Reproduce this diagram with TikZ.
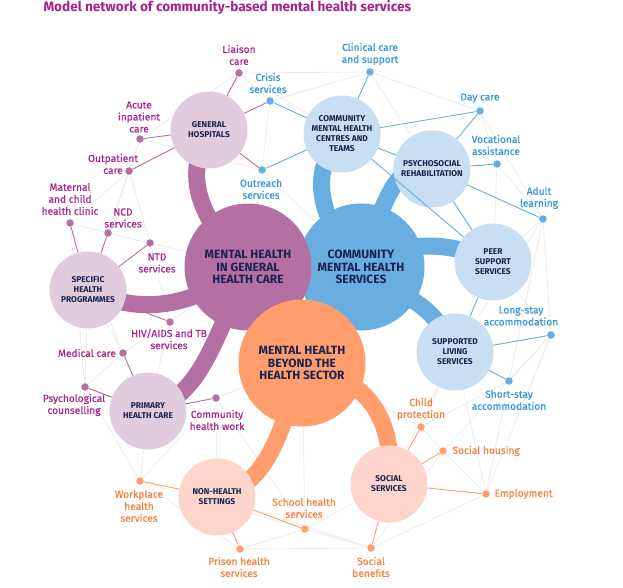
\documentclass[tikz,border=0pt]{standalone}
\usepackage{fontspec}
\setmainfont{Fira Sans}
\newfontfamily\labfont[FakeBold=0.6]{Fira Sans}
\definecolor{titlecol}{RGB}{166,36,142}
\definecolor{navy}{RGB}{27,36,80}
\definecolor{pband}{RGB}{180,111,163}
\definecolor{plight}{RGB}{224,204,220}
\definecolor{plabel}{RGB}{166,40,142}
\definecolor{bband}{RGB}{104,174,224}
\definecolor{blight}{RGB}{200,222,242}
\definecolor{blabel}{RGB}{52,152,219}
\definecolor{oband}{RGB}{255,158,108}
\definecolor{olight}{RGB}{253,213,203}
\definecolor{olabel}{RGB}{245,128,60}
\definecolor{meshgray}{RGB}{236,236,236}
\pgfdeclarelayer{bg}
\pgfdeclarelayer{mid}
\pgfsetlayers{bg,mid,main}
\begin{document}
\begin{tikzpicture}[x=1pt, y=-1pt,
  hub/.style={circle, minimum size=127pt, inner sep=0pt, align=center, text=navy, font=\bfseries\fontsize{12}{12.2}\selectfont},
  site/.style={circle, minimum size=77pt, inner sep=0pt, align=center, text=navy, font=\bfseries\fontsize{8.4}{10}\selectfont},
  pdot/.style={circle, fill=pband, minimum size=7.5pt, inner sep=0pt},
  bdot/.style={circle, fill=bband, minimum size=7.5pt, inner sep=0pt},
  odot/.style={circle, fill=oband, minimum size=7.5pt, inner sep=0pt},
  plab/.style={text=plabel, align=center, font=\labfont\fontsize{10.2}{12}\selectfont},
  blab/.style={text=blabel, align=center, font=\labfont\fontsize{10.2}{12}\selectfont},
  olab/.style={text=olabel, align=center, font=\labfont\fontsize{10.2}{12}\selectfont},
  pline/.style={draw=pband, line width=0.9pt},
  bline/.style={draw=bband, line width=0.9pt},
  oline/.style={draw=oband, line width=0.9pt},
  meshline/.style={draw=meshgray, line width=0.8pt},
  band/.style={line width=17pt}
]
\useasboundingbox (0,0) rectangle (623,588);

\node [anchor=base west, text=titlecol, font=\bfseries\fontsize{13.6}{15}\selectfont] (title) at (40,12) {Model network of community-based mental health services};

% big circles
\node [hub, fill=bband] (cmhs) at (361,267) {COMMUNITY\\MENTAL HEALTH\\SERVICES};
\node [hub, fill=pband] (mhg) at (248,267) {MENTAL HEALTH\\IN GENERAL\\HEALTH CARE};
\node [hub, fill=oband] (mhb) at (302,363) {MENTAL HEALTH\\BEYOND THE\\HEALTH SECTOR};

% small circles
\node [site, fill=plight] (gh) at (209,130) {GENERAL\\HOSPITALS};
\node [site, fill=plight] (shp) at (88,290) {SPECIFIC\\HEALTH\\PROGRAMMES};
\node [site, fill=plight] (phc) at (148,411) {PRIMARY\\HEALTH CARE};
\node [site, fill=blight] (cmhc) at (342,134) {COMMUNITY\\MENTAL HEALTH\\CENTRES AND\\TEAMS};
\node [site, fill=blight] (psr) at (432,169) {PSYCHOSOCIAL\\REHABILITATION};
\node [site, fill=blight] (peer) at (493,262) {PEER\\SUPPORT\\SERVICES};
\node [site, fill=blight] (sls) at (455,352) {SUPPORTED\\LIVING\\SERVICES};
\node [site, fill=olight] (nhs) at (217,497) {NON-HEALTH\\SETTINGS};
\node [site, fill=olight] (soc) at (389,484) {SOCIAL\\SERVICES};

% dots
\node [pdot] (liaison) at (239,73) {};
\node [pdot] (acute) at (140,139) {};
\node [pdot] (outpat) at (129,171) {};
\node [pdot] (maternal) at (70,223) {};
\node [pdot] (ncd) at (108,233) {};
\node [pdot] (ntd) at (150,243) {};
\node [pdot] (hiv) at (170,322) {};
\node [pdot] (medical) at (123,353) {};
\node [pdot] (psych) at (85,387) {};
\node [pdot] (chw) at (216,398) {};
\node [bdot] (crisis) at (270,101) {};
\node [bdot] (outreach) at (262,170) {};
\node [bdot] (clinical) at (370,72) {};
\node [bdot] (daycare) at (480,111) {};
\node [bdot] (vocat) at (497,164) {};
\node [bdot] (adult) at (543,219) {};
\node [bdot] (longstay) at (551,335) {};
\node [bdot] (shortstay) at (509,381) {};
\node [odot] (childprot) at (421,427) {};
\node [odot] (housing) at (443,451) {};
\node [odot] (employ) at (486,494) {};
\node [odot] (benefits) at (371,548) {};
\node [odot] (school) at (305,529) {};
\node [odot] (prison) at (240,549) {};
\node [odot] (workplace) at (140,481) {};

% labels
\node [plab] (liaisonlab) at (239,55) {Liaison\\care};
\node [plab] (acutelab) at (139,117) {Acute\\inpatient\\care};
\node [plab] (outpatlab) at (113,164) {Outpatient\\care};
\node [plab] (maternallab) at (70,199) {Maternal\\and child\\health clinic};
\node [plab] (ncdlab) at (123,218) {NCD\\services};
\node [plab] (ntdlab) at (157,263) {NTD\\services};
\node [plab] (hivlab) at (169,339) {HIV/AIDS and TB\\services};
\node [plab] (medicallab) at (87,353) {Medical care};
\node [plab] (psychlab) at (74,405) {Psychological\\counselling};
\node [plab] (chwlab) at (217,420) {Community\\health work};
\node [blab] (crisislab) at (268,83) {Crisis\\services};
\node [blab] (outreachlab) at (261,189) {Outreach\\services};
\node [blab] (clinicallab) at (370,54) {Clinical care\\and support};
\node [blab] (daycarelab) at (480,98) {Day care};
\node [blab] (vocatlab) at (496,145) {Vocational\\assistance};
\node [blab] (adultlab) at (539,198) {Adult\\learning};
\node [blab] (longstaylab) at (521,316) {Long-stay\\accommodation};
\node [blab] (shortstaylab) at (509,400) {Short-stay\\accommodation};
\node [olab] (childprotlab) at (421,409) {Child\\protection};
\node [olab, anchor=west] (housinglab) at (449,451) {Social housing};
\node [olab, anchor=west] (employlab) at (491,494) {Employment};
\node [olab] (benefitslab) at (371,567) {Social\\benefits};
\node [olab] (schoollab) at (304,508) {School health\\services};
\node [olab] (prisonlab) at (239,567) {Prison health\\services};
\node [olab] (workplacelab) at (139,506) {Workplace\\health\\services};

% links to the services
\foreach \s/\t in {gh/liaison, gh/acute, gh/outpat, gh/crisis, gh/outreach, shp/maternal, shp/ncd, shp/ntd, shp/hiv, phc/medical, phc/psych, phc/chw}
  \draw [pline] (\s) -- (\t);
\foreach \s/\t in {cmhc/crisis, cmhc/outreach, cmhc/clinical, cmhc/daycare, cmhc/psr, cmhc/peer, psr/daycare, psr/vocat, psr/adult, psr/peer, peer/sls, sls/longstay, sls/shortstay}
  \draw [bline] (\s) -- (\t);
\foreach \s/\t in {nhs/workplace, nhs/school, nhs/prison, soc/childprot, soc/housing, soc/employ, soc/benefits}
  \draw [oline] (\s) -- (\t);

% thick bands
\begin{pgfonlayer}{mid}
\draw [band, pband] (gh.center) .. controls (185,175) and (195,215) .. (mhg.center);
\draw [band, pband] (shp.center) .. controls (150,320) and (200,300) .. (mhg.center);
\draw [band, pband] (phc.center) .. controls (200,395) and (210,350) .. (mhg.center);
\draw [band, bband] (cmhc.center) .. controls (310,170) and (315,215) .. (cmhs.center);
\draw [band, bband] (psr.center) .. controls (395,160) and (385,200) .. (cmhs.center);
\draw [band, bband] (peer.center) .. controls (450,240) and (400,240) .. (cmhs.center);
\draw [band, bband] (sls.center) .. controls (430,295) and (400,300) .. (cmhs.center);
\draw [band, oband] (nhs.center) .. controls (265,485) and (280,440) .. (mhb.center);
\draw [band, oband] (soc.center) .. controls (395,420) and (370,380) .. (mhb.center);
\end{pgfonlayer}

% background mesh
\begin{pgfonlayer}{bg}
\foreach \a/\b in {liaison/clinical, clinical/daycare, daycare/adult, adult/longstay, longstay/employ, employ/benefits, benefits/prison, prison/workplace, workplace/psych, psych/maternal, maternal/outpat, outpat/acute, acute/liaison,
  liaison/crisis, liaison/gh, crisis/clinical, crisis/outreach, clinical/psr, clinical/cmhc, daycare/vocat, vocat/adult, vocat/peer, adult/peer, adult/sls, adult/shortstay, longstay/peer, longstay/shortstay, longstay/housing, shortstay/employ, shortstay/childprot, housing/employ, housing/childprot, childprot/mhb, childprot/sls, employ/sls,
  benefits/school, benefits/nhs, benefits/housing, school/prison, school/soc, school/mhb, workplace/phc, workplace/chw, workplace/school, chw/nhs, chw/mhb, psych/medical, psych/shp, psych/phc, medical/hiv, medical/shp, hiv/ntd, hiv/mhg, hiv/phc, ntd/ncd, ntd/outpat, ntd/mhg, ncd/maternal, ncd/outpat, acute/ncd, outpat/gh, outreach/mhg, outreach/cmhs, outreach/acute, peer/psr, sls/soc, cmhc/psr, chw/school, medical/maternal, liaison/cmhc}
  \draw [meshline] (\a) -- (\b);
\end{pgfonlayer}
\end{tikzpicture}
\end{document}
